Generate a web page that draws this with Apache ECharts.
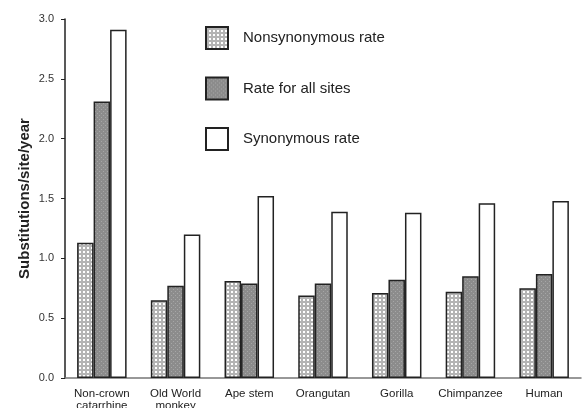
<!DOCTYPE html>
<html>
<head>
<meta charset="utf-8">
<script src="https://cdn.jsdelivr.net/npm/echarts@6/dist/echarts.min.js"></script>
<style>
body { margin: 0; background: #fff; }
#chart { width: 586px; height: 408px; }
</style>
</head>
<body>
<div id="chart"></div>
<script>
var categories = ['Non-crown\ncatarrhine', 'Old World\nmonkey', 'Ape stem', 'Orangutan', 'Gorilla', 'Chimpanzee', 'Human'];
var nonsynRate = [1.13, 0.65, 0.81, 0.69, 0.71, 0.72, 0.75];
var allSitesRate = [2.31, 0.77, 0.79, 0.79, 0.82, 0.85, 0.87];
var synRate = [2.91, 1.20, 1.52, 1.39, 1.38, 1.46, 1.48];

// little fill patterns, like the print figure
function makePattern(bg, dot, draw) {
    var c = document.createElement('canvas');
    c.width = 4; c.height = 4;
    var ctx = c.getContext('2d');
    ctx.fillStyle = bg;
    ctx.fillRect(0, 0, 4, 4);
    ctx.fillStyle = dot;
    draw(ctx);
    return { image: c, repeat: 'repeat' };
}
var checkFill = makePattern('#ffffff', '#b4b4b4', function (ctx) {
    ctx.fillRect(1, 0, 2, 1);
    ctx.fillRect(0, 1, 4, 2);
    ctx.fillRect(1, 3, 2, 1);
});
var greyFill = makePattern('#8c8c8c', '#a6a6a6', function (ctx) {
    ctx.fillRect(1, 1, 1, 1);
    ctx.fillRect(3, 3, 1, 1);
});

var myChart = echarts.init(document.getElementById('chart'));
var font = 'Liberation Sans, Arial, sans-serif';
var barStyle = function (fill) {
    return { color: fill, borderColor: '#222', borderWidth: 1.5 };
};
option = {
    animation: false,
    backgroundColor: '#fff',
    textStyle: { fontFamily: font },
    grid: { left: 65, right: 5, top: 19, bottom: 30, outerBoundsMode: 'none', containLabel: false },
    legend: {
        orient: 'vertical',
        left: 205,
        top: 26,
        padding: 0,
        icon: 'rect',
        itemWidth: 22,
        itemHeight: 22,
        itemGap: 26.5,
        textStyle: { fontSize: 15, lineHeight: 22, color: '#222', padding: [0, 0, 0, 10] },
        data: ['Nonsynonymous rate', 'Rate for all sites', 'Synonymous rate']
    },
    xAxis: {
        type: 'category',
        data: categories,
        axisLine: { lineStyle: { color: '#777', width: 1.5 } },
        axisTick: { show: false },
        axisLabel: { color: '#222', fontSize: 11.5, lineHeight: 12, margin: 10, interval: 0 }
    },
    yAxis: {
        type: 'value',
        min: 0,
        max: 3,
        interval: 0.5,
        name: 'Substitutions/site/year',
        nameLocation: 'middle',
        nameGap: 33,
        nameMoveOverlap: false,
        nameTextStyle: { fontSize: 15, fontWeight: 'bold', color: '#222' },
        splitLine: { show: false },
        axisLine: { show: true, lineStyle: { color: '#222', width: 1.5 } },
        axisTick: { show: true, length: 4, lineStyle: { color: '#222' } },
        axisLabel: {
            color: '#333', fontSize: 11, margin: 11,
            formatter: function (v) { return v.toFixed(1); }
        }
    },
    series: [
        { name: 'Nonsynonymous rate', type: 'bar', barWidth: 16.5, barGap: '0%', itemStyle: barStyle(checkFill), data: nonsynRate },
        { name: 'Rate for all sites', type: 'bar', barWidth: 16.5, barGap: '0%', itemStyle: barStyle(greyFill), data: allSitesRate },
        { name: 'Synonymous rate', type: 'bar', barWidth: 16.5, barGap: '0%', itemStyle: barStyle('#ffffff'), data: synRate }
    ]
};
myChart.setOption(option);
</script>
</body>
</html>
